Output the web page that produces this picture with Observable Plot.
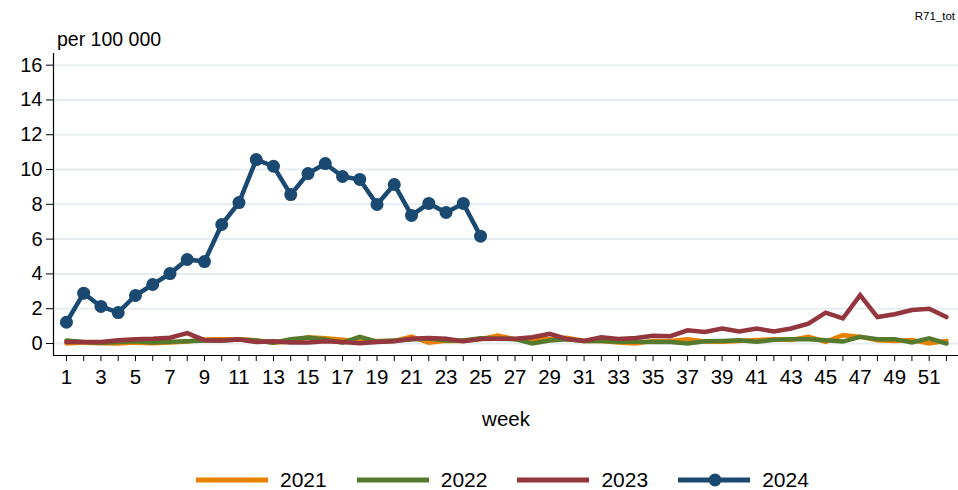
<!DOCTYPE html>
<html>
<head>
<meta charset="utf-8">
<script src="https://cdn.jsdelivr.net/npm/d3@7"></script>
<script src="https://cdn.jsdelivr.net/npm/@observablehq/plot@0.6"></script>
<style>
  html, body { margin: 0; padding: 0; background: #fff; }
  body { width: 958px; height: 490px; overflow: hidden; font-family: "Liberation Sans", Arial, sans-serif; color: #000; }
  #header { position: relative; width: 958px; height: 50px; }
  #code { position: absolute; right: 3px; top: 10px; font-size: 11.5px; }
  #ylab { position: absolute; left: 57px; top: 28px; font-size: 19.5px; }
  #legend { width: 958px; height: 60px; display: flex; justify-content: flex-start; align-items: flex-start; padding-top: 39px; padding-left: 196px; box-sizing: border-box; gap: 30px; font-size: 21px; line-height: 21px; }
  .item { display: flex; align-items: center; height: 21px; }
  .item svg { margin-right: 12px; }
</style>
</head>
<body>
<div id="header"><div id="code">R71_tot</div><div id="ylab">per 100 000</div></div>
<div id="chart" style="height:380px"></div>
<div id="legend"></div>
<script>
const weeks = Array.from({length: 52}, (_, i) => i + 1);
const years = ["2021", "2022", "2023", "2024"];
const colors = ["#e88000", "#557a2e", "#93363e", "#1a4a72"];
const yTicks = [0, 2, 4, 6, 8, 10, 12, 14, 16];

const v2021 = [0.0, 0.05, 0.02, 0.0, 0.05, 0.02, 0.05, 0.12, 0.23, 0.25, 0.25, 0.18, 0.05, 0.12, 0.36, 0.3, 0.21, 0.11, 0.15, 0.15, 0.4, 0.04, 0.15, 0.15, 0.25, 0.45, 0.25, 0.25, 0.25, 0.33, 0.15, 0.15, 0.05, 0.0, 0.15, 0.15, 0.25, 0.12, 0.1, 0.15, 0.2, 0.25, 0.2, 0.38, 0.1, 0.48, 0.38, 0.19, 0.15, 0.2, 0.0, 0.15];
const v2022 = [0.17, 0.08, 0.04, 0.08, 0.13, 0.06, 0.1, 0.13, 0.17, 0.17, 0.23, 0.17, 0.04, 0.25, 0.34, 0.23, 0.05, 0.38, 0.11, 0.17, 0.23, 0.29, 0.17, 0.17, 0.3, 0.28, 0.25, 0.0, 0.17, 0.25, 0.15, 0.15, 0.1, 0.1, 0.08, 0.08, 0.0, 0.13, 0.15, 0.19, 0.1, 0.21, 0.25, 0.25, 0.19, 0.11, 0.38, 0.25, 0.25, 0.06, 0.3, 0.0];
const v2023 = [0.08, 0.08, 0.08, 0.19, 0.25, 0.27, 0.33, 0.6, 0.19, 0.17, 0.23, 0.08, 0.13, 0.06, 0.06, 0.13, 0.08, 0.02, 0.08, 0.13, 0.27, 0.31, 0.27, 0.13, 0.26, 0.27, 0.27, 0.36, 0.55, 0.26, 0.15, 0.36, 0.26, 0.32, 0.44, 0.42, 0.76, 0.66, 0.86, 0.69, 0.86, 0.69, 0.86, 1.14, 1.77, 1.45, 2.78, 1.52, 1.68, 1.92, 2.0, 1.52];
const v2024 = [1.22, 2.89, 2.13, 1.78, 2.76, 3.39, 4.02, 4.83, 4.71, 6.84, 8.1, 10.57, 10.19, 8.56, 9.77, 10.34, 9.6, 9.43, 7.99, 9.14, 7.36, 8.05, 7.53, 8.05, 6.17];

const series = [v2021, v2022, v2023, v2024];
const rows = [];
series.forEach((vals, s) => vals.forEach((v, i) => rows.push({year: years[s], week: weeks[i], value: v})));
const rows2024 = rows.filter(d => d.year === "2024");

const xDomain = [0.25, 52.7];
const yDomain = [-0.69, 16.67];

const chart = Plot.plot({
  width: 958,
  height: 380,
  marginTop: 3,
  marginLeft: 53,
  marginRight: 0,
  marginBottom: 75,
  style: {fontFamily: "'Liberation Sans', Arial, sans-serif", fontSize: "20px", color: "#000", background: "#fff"},
  x: {domain: xDomain},
  y: {domain: yDomain},
  color: {domain: years, range: colors},
  marks: [
    Plot.gridY(yTicks, {stroke: "#e6edf1", strokeOpacity: 1, strokeWidth: 2}),
    Plot.axisY(yTicks, {tickSize: 7, tickPadding: 4, fontSize: 20, label: null, stroke: "#000"}),
    Plot.axisX(weeks, {tickSize: 6, tickPadding: 8, fontSize: 20.5, stroke: "#000",
      tickFormat: d => d % 2 === 1 ? String(d) : "",
      label: "week", labelAnchor: "center", labelOffset: 70, labelArrow: "none"}),
    Plot.ruleX([xDomain[0]], {stroke: "#000", strokeWidth: 1.2}),
    Plot.ruleY([yDomain[0]], {stroke: "#000", strokeWidth: 1.2}),
    Plot.line(rows, {x: "week", y: "value", z: "year", stroke: "year", strokeWidth: 4.5, strokeLinejoin: "miter", strokeMiterlimit: 3}),
    Plot.dot(rows2024, {x: "week", y: "value", r: 6.5, fill: "year", stroke: null})
  ]
});
document.getElementById("chart").appendChild(chart);

const legend = document.getElementById("legend");
years.forEach((y, i) => {
  const item = document.createElement("div");
  item.className = "item";
  const dot = i === 3 ? `<circle cx="37" cy="8" r="6.5" fill="${colors[i]}"/>` : "";
  item.innerHTML = `<svg width="72" height="16"><line x1="0" x2="72" y1="8" y2="8" stroke="${colors[i]}" stroke-width="5"/>${dot}</svg><span>${y}</span>`;
  legend.appendChild(item);
});
</script>
</body>
</html>
